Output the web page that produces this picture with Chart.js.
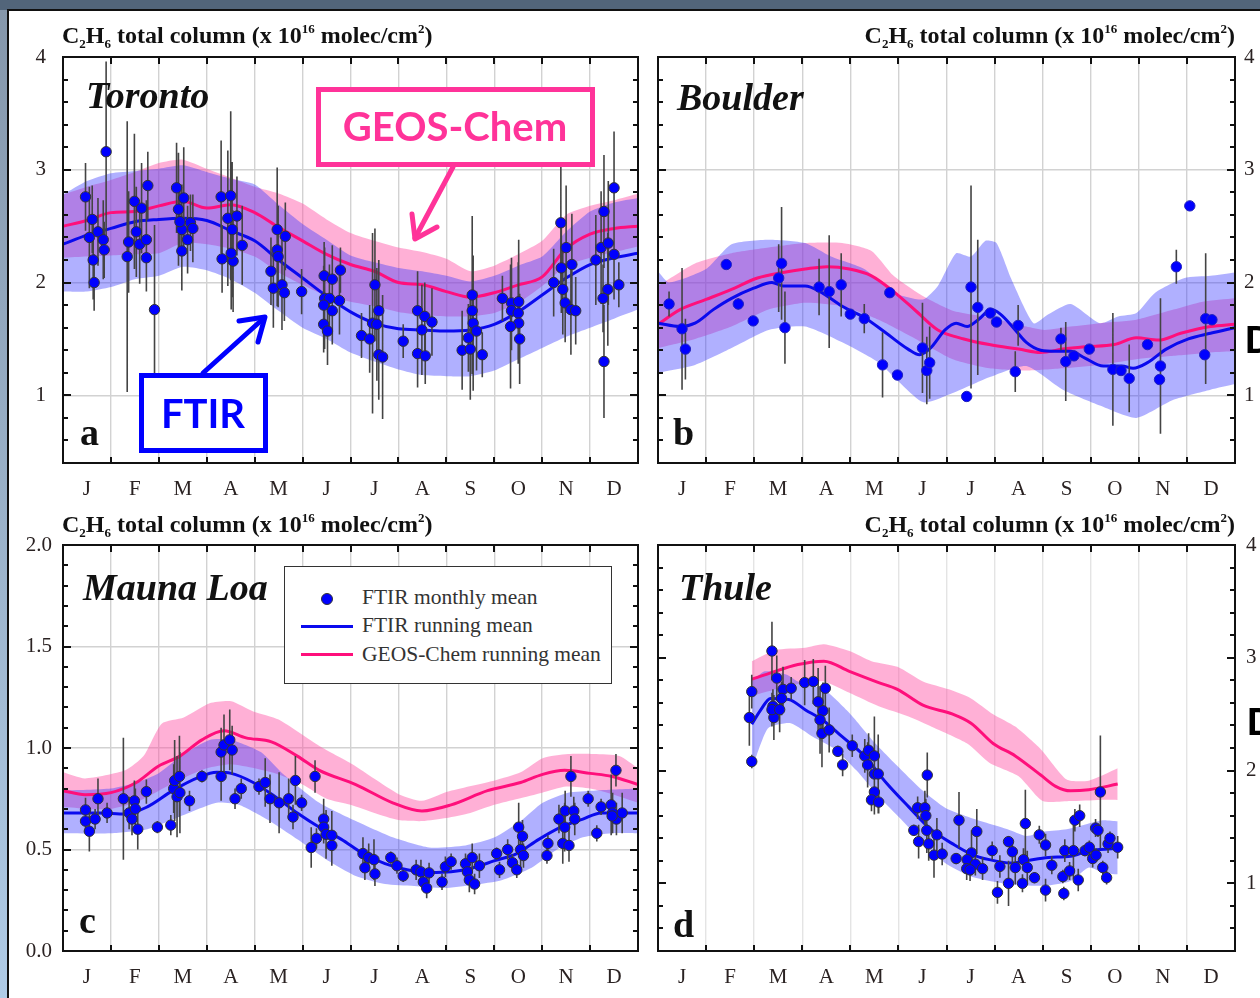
<!DOCTYPE html>
<html>
<head>
<meta charset="utf-8">
<title>C2H6 total column seasonal cycles</title>
<script src="https://cdn.jsdelivr.net/npm/chart.js@4.4.1/dist/chart.umd.min.js"></script>
<style>
  html, body { margin: 0; padding: 0; }
  body { width: 1260px; height: 998px; position: relative; overflow: hidden; background: #52657a; font-family: "Liberation Serif", serif; color: #111; }
  #strip { position: absolute; left: 0; top: 10px; width: 7px; bottom: 0; background: linear-gradient(#8597ab, #afcbe6); }
  #sheet { position: absolute; left: 7px; top: 9px; right: 0; bottom: 0; background: #fff; border-left: 2px solid #111; border-top: 2px solid #111; }
  canvas { position: absolute; }
  .ttl { position: absolute; font-weight: bold; font-size: 24px; line-height: 24px; white-space: nowrap; color: #111; }
  .ttl .lo { font-size: 13px; position: relative; top: 5px; }
  .ttl .hi { font-size: 13px; position: relative; top: -10px; }
  .site { position: absolute; font: italic bold 38px/38px "Liberation Serif", serif; white-space: nowrap; }
  .tag { position: absolute; font: bold 38px/38px "Liberation Serif", serif; }
  .cut { position: absolute; font: bold 38px/38px "Liberation Sans", sans-serif; color: #000; }
  #legend { position: absolute; left: 284px; top: 566px; width: 326px; height: 116px; border: 1.5px solid #333; background: #fff; }
  #legend .txt { position: absolute; left: 77px; font-size: 21.5px; line-height: 21.5px; white-space: nowrap; color: #333; }
  #legend .dot { position: absolute; left: 36px; top: 26px; width: 10px; height: 10px; border-radius: 50%; background: #0000ff; border: 1px solid #333; }
  #legend .ln { position: absolute; left: 16px; width: 52px; height: 3px; }
  svg { position: absolute; left: 0; top: 0; }
</style>
</head>
<body>
<div id="strip"></div>
<div id="sheet"></div>

<canvas id="cA" width="650" height="464" style="left:0;top:43px"></canvas>
<canvas id="cB" width="615" height="464" style="left:645px;top:43px"></canvas>
<canvas id="cC" width="650" height="464" style="left:0;top:531px"></canvas>
<canvas id="cD" width="615" height="464" style="left:645px;top:531px"></canvas>

<div class="ttl" style="left:62px;top:23px">C<span class="lo">2</span>H<span class="lo">6</span> total column (x 10<span class="hi">16</span> molec/cm<span class="hi">2</span>)</div>
<div class="ttl" style="right:25px;top:23px">C<span class="lo">2</span>H<span class="lo">6</span> total column (x 10<span class="hi">16</span> molec/cm<span class="hi">2</span>)</div>
<div class="ttl" style="left:62px;top:512px">C<span class="lo">2</span>H<span class="lo">6</span> total column (x 10<span class="hi">16</span> molec/cm<span class="hi">2</span>)</div>
<div class="ttl" style="right:25px;top:512px">C<span class="lo">2</span>H<span class="lo">6</span> total column (x 10<span class="hi">16</span> molec/cm<span class="hi">2</span>)</div>

<div class="site" style="left:86px;top:76px">Toronto</div>
<div class="site" style="left:677px;top:78px">Boulder</div>
<div class="site" style="left:83px;top:568px">Mauna Loa</div>
<div class="site" style="left:679px;top:568px">Thule</div>

<div class="tag" style="left:80px;top:413px">a</div>
<div class="tag" style="left:673px;top:413px">b</div>
<div class="tag" style="left:79px;top:901px">c</div>
<div class="tag" style="left:673px;top:905px">d</div>

<div class="cut" style="left:1245px;top:321px">D</div>
<div class="cut" style="left:1247px;top:703px">D</div>

<div id="legend">
  <div class="dot"></div>
  <div class="txt" style="top:20px">FTIR monthly mean</div>
  <div class="ln" style="top:58px;background:#0a0aee"></div>
  <div class="txt" style="top:48px">FTIR running mean</div>
  <div class="ln" style="top:86px;background:#ff0f7b"></div>
  <div class="txt" style="top:77px">GEOS-Chem running mean</div>
</div>

<svg width="1260" height="998">
  <g fill="none" stroke-linecap="round" stroke-linejoin="round">
    <line x1="453" y1="167" x2="415" y2="238" stroke="#ff3399" stroke-width="5"/>
    <polyline points="437,227 415,239 412,214" stroke="#ff3399" stroke-width="5"/>
    <line x1="203" y1="373" x2="264" y2="318" stroke="#0000ff" stroke-width="5"/>
    <polyline points="239,321 265,317 258,342" stroke="#0000ff" stroke-width="5"/>
  </g>
  <rect x="318.5" y="89.5" width="274" height="75" fill="#fff" stroke="#ff3399" stroke-width="5"/>
  <text x="455" y="141" text-anchor="middle" font-family="Lato" font-weight="bold" font-size="40" fill="#ff3399">GEOS-Chem</text>
  <rect x="141.5" y="375.5" width="124" height="75" fill="#fff" stroke="#0000ff" stroke-width="5"/>
  <text x="203" y="428" text-anchor="middle" font-family="Lato" font-weight="bold" font-size="40" fill="#0000ff">FTIR</text>
</svg>

<script>
// month axis
const months = ['J', 'F', 'M', 'A', 'M', 'J', 'J', 'A', 'S', 'O', 'N', 'D'];
const monthTicks = [0, 0.5, 1, 1.5, 2, 2.5, 3, 3.5, 4, 4.5, 5, 5.5, 6, 6.5, 7, 7.5, 8, 8.5, 9, 9.5, 10, 10.5, 11, 11.5, 12];
const halfGrid = [0, 0.5, 1, 1.5, 2, 2.5, 3, 3.5, 4, 4.5, 5, 5.5, 6, 6.5, 7, 7.5, 8, 8.5, 9, 9.5, 10, 10.5, 11, 11.5, 12];

// y tick labels
const colTicks = [1, 2, 3, 4];
const colLabels = ['1', '2', '3', '4'];
const mloTicks = [0, 0.5, 1, 1.5, 2];
const mloLabels = ['0.0', '0.5', '1.0', '1.5', '2.0'];

// ---- Toronto (a) ----
const torX = [0.47, 0.90, 0.55, 0.63, 0.65, 0.73, 0.84, 0.86, 0.61,
  1.34, 1.37, 1.49, 1.53, 1.60, 1.64, 1.74, 1.74, 1.77, 1.91,
  2.37, 2.41, 2.48, 2.52, 2.48, 2.60, 2.66, 2.71, 2.44,
  3.30, 3.50, 3.44, 3.63, 3.32, 3.55, 3.53, 3.74, 3.51,
  4.47, 4.64, 4.47, 4.49, 4.34, 4.39, 4.57, 4.62, 4.98,
  5.45, 5.62, 5.79, 5.46, 5.56, 5.77, 5.44, 5.62, 5.44, 5.52,
  6.51, 6.59, 6.46, 6.55, 6.23, 6.40, 6.59, 6.67, 7.10,
  7.40, 7.55, 7.70, 7.49, 7.40, 7.56,
  8.54, 8.54, 8.56, 8.63, 8.46, 8.33, 8.50, 8.75,
  9.17, 9.36, 9.51, 9.36, 9.50, 9.51, 9.34, 9.53,
  10.24, 10.39, 10.50, 10.40, 10.62, 10.43, 10.48, 10.60, 10.70,
  11.29, 11.50, 11.12, 11.23, 11.38, 11.50, 11.60, 11.37, 11.27, 11.29];
const torY = [2.76, 3.16, 2.40, 2.20, 2.00, 2.45, 2.38, 2.29, 2.56,
  2.23, 2.36, 2.72, 2.45, 2.34, 2.66, 2.22, 2.38, 2.86, 1.76,
  2.84, 2.65, 2.47, 2.75, 2.28, 2.38, 2.53, 2.48, 2.54,
  2.76, 2.77, 2.57, 2.59, 2.21, 2.19, 2.47, 2.33, 2.26,
  2.47, 2.41, 2.29, 2.23, 2.10, 1.95, 1.98, 1.91, 1.92,
  2.06, 2.03, 2.11, 1.86, 1.86, 1.84, 1.80, 1.75, 1.63, 1.57,
  1.98, 1.75, 1.64, 1.63, 1.53, 1.50, 1.36, 1.34, 1.48,
  1.75, 1.70, 1.65, 1.58, 1.37, 1.35,
  1.89, 1.75, 1.64, 1.57, 1.51, 1.40, 1.41, 1.36,
  1.86, 1.82, 1.83, 1.75, 1.73, 1.64, 1.61, 1.50,
  2.00, 2.53, 2.31, 2.13, 2.16, 1.94, 1.82, 1.76, 1.75,
  2.63, 2.84, 2.20, 2.31, 2.35, 2.25, 1.98, 1.94, 1.86, 1.30];
const torErr = [0.3, 0.8, 0.45, 0.35, 0.25, 0.3, 0.35, 0.25, 0.3,
  1.2, 0.45, 0.6, 0.4, 0.35, 0.4, 0.3, 0.35, 0.3, 0.75,
  0.4, 0.5, 0.4, 0.45, 0.35, 0.3, 0.25, 0.3, 0.3,
  0.5, 0.75, 0.6, 0.35, 0.3, 0.45, 0.6, 0.35, 0.5,
  0.55, 0.3, 0.5, 0.45, 0.3, 0.35, 0.4, 0.25, 0.2,
  0.3, 0.3, 0.2, 0.45, 0.3, 0.3, 0.35, 0.3, 0.25, 0.3,
  0.5, 0.45, 0.8, 0.5, 0.2, 0.3, 0.4, 0.55, 0.15,
  0.35, 0.3, 0.3, 0.4, 0.3, 0.25,
  0.7, 0.5, 0.6, 0.35, 0.3, 0.35, 0.45, 0.2,
  0.2, 0.4, 0.55, 0.35, 0.45, 0.35, 0.55, 0.4,
  0.3, 0.6, 0.55, 0.4, 0.45, 0.4, 0.35, 0.4, 0.3,
  0.5, 0.5, 0.4, 0.5, 0.55, 0.4, 0.2, 0.5, 0.3, 0.5];
const torFtir = [2.34, 2.42, 2.48, 2.54, 2.56, 2.57, 2.55, 2.46, 2.37, 2.20, 2.04, 1.88, 1.74, 1.64, 1.59, 1.58, 1.57, 1.58, 1.63, 1.74, 1.89, 2.04, 2.16, 2.22, 2.26];
const torGeos = [2.50, 2.55, 2.62, 2.63, 2.68, 2.72, 2.66, 2.69, 2.62, 2.49, 2.37, 2.25, 2.16, 2.10, 2.00, 1.98, 1.92, 1.87, 1.91, 1.98, 2.05, 2.30, 2.43, 2.48, 2.50];
const torFtirHi = [2.78, 2.90, 2.97, 2.99, 3.01, 3.04, 2.98, 2.92, 2.87, 2.69, 2.52, 2.38, 2.24, 2.18, 2.13, 2.10, 2.06, 2.01, 2.06, 2.15, 2.23, 2.45, 2.63, 2.71, 2.75];
const torFtirLo = [1.92, 1.92, 1.96, 2.03, 2.06, 2.14, 2.11, 2.03, 1.91, 1.75, 1.60, 1.50, 1.38, 1.30, 1.23, 1.18, 1.17, 1.17, 1.22, 1.32, 1.42, 1.52, 1.60, 1.68, 1.76];
const torGeosHi = [2.78, 2.85, 2.91, 2.98, 3.06, 3.09, 3.01, 2.93, 2.85, 2.79, 2.70, 2.56, 2.44, 2.37, 2.31, 2.27, 2.21, 2.10, 2.15, 2.25, 2.37, 2.60, 2.68, 2.73, 2.79];
const torGeosLo = [2.22, 2.23, 2.24, 2.25, 2.26, 2.35, 2.34, 2.30, 2.23, 2.09, 1.98, 1.88, 1.83, 1.79, 1.74, 1.71, 1.70, 1.70, 1.73, 1.82, 1.97, 2.15, 2.22, 2.27, 2.32];

// ---- Boulder (b) ----
const bouX = [0.23, 0.50, 0.57, 1.42, 1.67, 1.98, 2.57, 2.51, 2.64, 3.35, 3.56, 3.81,
  4.00, 4.29, 4.82, 4.67, 4.98, 5.50, 5.59, 5.65, 6.42, 6.51, 6.65, 6.91, 7.04,
  7.49, 7.43, 8.38, 8.48, 8.65, 8.97, 9.46, 9.63, 9.80, 10.18, 10.45, 10.43, 10.78,
  11.06, 11.39, 11.37, 11.52];
const bouY = [1.81, 1.59, 1.41, 2.16, 1.81, 1.66, 2.17, 2.04, 1.60, 1.96, 1.92, 1.98,
  1.72, 1.68, 1.91, 1.27, 1.18, 1.42, 1.22, 1.29, 0.99, 1.96, 1.78, 1.73, 1.65,
  1.62, 1.21, 1.50, 1.30, 1.35, 1.41, 1.23, 1.22, 1.15, 1.45, 1.26, 1.14, 2.14,
  2.68, 1.68, 1.36, 1.67];
const bouErr = [0.11, 0.54, 0.27, 0.03, 0.05, 0.03, 0.5, 0.3, 0.32, 0.25, 0.5, 0.28,
  0.03, 0.13, 0.03, 0.29, 0.03, 0.4, 0.3, 0.32, 0.03, 0.9, 0.6, 0.03, 0.03,
  0.18, 0.18, 0.1, 0.35, 0.03, 0.03, 0.5, 0.03, 0.3, 0.03, 0.6, 0.03, 0.15,
  0.03, 0.58, 0.03, 0.03];
const bouFtirX = [0, 0.46, 0.77, 1.15, 1.53, 1.99, 2.37, 2.6, 3.06, 3.37, 3.83, 4.29, 4.75, 5.2, 5.44, 5.67, 5.97, 6.2, 6.43, 6.66, 6.93, 7.12, 7.43, 7.66, 7.96, 8.27, 8.58, 8.88, 9.26, 9.65, 9.88, 10.18, 10.57, 11.03, 11.49, 12];
const bouFtirY = [1.64, 1.61, 1.64, 1.76, 1.86, 1.95, 2.00, 1.97, 1.97, 1.92, 1.79, 1.69, 1.55, 1.41, 1.36, 1.42, 1.58, 1.64, 1.61, 1.67, 1.76, 1.72, 1.58, 1.47, 1.40, 1.39, 1.39, 1.33, 1.26, 1.26, 1.24, 1.29, 1.41, 1.50, 1.55, 1.60];
const bouGeosX = [0, 0.46, 1, 1.53, 2.07, 2.6, 3.06, 3.52, 3.98, 4.44, 4.9, 5.36, 5.82, 6.36, 6.89, 7.5, 7.96, 8.42, 8.88, 9.49, 9.95, 10.41, 10.87, 11.49, 12];
const bouGeosY = [1.63, 1.76, 1.85, 1.94, 2.04, 2.09, 2.12, 2.14, 2.12, 2.06, 1.92, 1.75, 1.58, 1.50, 1.45, 1.41, 1.38, 1.41, 1.43, 1.45, 1.51, 1.49, 1.55, 1.61, 1.63];
const bouFtirHiX = [0, 0.23, 1, 1.53, 2.3, 3.06, 3.6, 4.29, 4.9, 5.51, 5.82, 6.2, 6.51, 6.81, 7.04, 7.35, 7.81, 8.12, 8.58, 9.19, 9.57, 9.95, 10.34, 10.95, 11.49, 12];
const bouFtirHiY = [2.10, 2.00, 2.12, 2.34, 2.38, 2.35, 2.23, 2.12, 1.91, 1.85, 1.97, 2.26, 2.23, 2.37, 2.35, 2.03, 1.64, 1.72, 1.81, 1.64, 1.70, 1.73, 1.91, 2.04, 2.06, 2.09];
const bouFtirLoX = [0, 0.77, 1.53, 2.3, 3.06, 3.83, 4.59, 5.51, 6.13, 6.89, 7.66, 8.42, 9.19, 9.95, 10.72, 11.49, 12];
const bouFtirLoY = [1.20, 1.27, 1.42, 1.58, 1.61, 1.47, 1.29, 0.94, 1.02, 1.16, 1.26, 1.05, 0.91, 0.80, 0.96, 1.05, 1.10];
const bouGeosHiX = [0, 0.77, 1.53, 2.3, 3.06, 3.83, 4.44, 4.9, 5.51, 6.13, 6.89, 7.66, 8.04, 8.58, 9.19, 9.95, 10.72, 11.33, 12];
const bouGeosHiY = [1.97, 2.17, 2.26, 2.31, 2.35, 2.35, 2.28, 2.06, 1.88, 1.75, 1.69, 1.61, 1.58, 1.61, 1.64, 1.67, 1.76, 1.83, 1.86];
const bouGeosLoX = [0, 0.77, 1.53, 2.3, 3.06, 3.83, 4.59, 5.36, 6.13, 6.89, 7.66, 8.42, 9.19, 9.95, 10.72, 11.49, 12];
const bouGeosLoY = [1.42, 1.50, 1.61, 1.76, 1.82, 1.79, 1.67, 1.50, 1.32, 1.24, 1.22, 1.24, 1.27, 1.32, 1.35, 1.38, 1.39];

// ---- Mauna Loa (c) ----
const mloX = [0.47, 0.47, 0.55, 0.67, 0.73, 0.92,
  1.26, 1.38, 1.49, 1.44, 1.51, 1.56, 1.74, 1.97,
  2.25, 2.31, 2.33, 2.43, 2.38, 2.44, 2.64, 2.90,
  3.30, 3.36, 3.48, 3.53, 3.30, 3.59, 3.72,
  4.09, 4.22, 4.32, 4.51, 4.71, 4.85, 4.80, 4.98,
  5.26, 5.18, 5.29, 5.44, 5.44, 5.49, 5.61, 5.61,
  6.26, 6.30, 6.38, 6.49, 6.51, 6.84, 6.97, 7.10,
  7.37, 7.47, 7.52, 7.64, 7.59, 7.91, 7.98, 8.10,
  8.40, 8.44, 8.48, 8.59, 8.69, 8.54,
  9.05, 9.11, 9.28, 9.38, 9.47, 9.51, 9.59, 9.55, 9.61,
  10.12, 10.10, 10.35, 10.48, 10.66, 10.68, 10.47, 10.43, 10.56, 10.60, 10.96,
  11.14, 11.23, 11.44, 11.54, 11.47, 11.55, 11.67, 11.46];
const mloY = [0.695, 0.64, 0.59, 0.65, 0.75, 0.68,
  0.75, 0.68, 0.74, 0.65, 0.70, 0.60, 0.785, 0.61,
  0.62, 0.80, 0.84, 0.86, 0.76, 0.78, 0.74, 0.86,
  0.98, 1.015, 1.04, 0.99, 0.86, 0.75, 0.80,
  0.81, 0.83, 0.75, 0.73, 0.75, 0.84, 0.66, 0.73,
  0.86, 0.51, 0.555, 0.65, 0.61, 0.575, 0.57, 0.52,
  0.48, 0.41, 0.46, 0.45, 0.38, 0.46, 0.42, 0.37,
  0.40, 0.39, 0.34, 0.385, 0.31, 0.34, 0.415, 0.44,
  0.43, 0.39, 0.35, 0.33, 0.42, 0.46,
  0.48, 0.40, 0.50, 0.435, 0.40, 0.61, 0.565, 0.50, 0.47,
  0.53, 0.47, 0.65, 0.69, 0.69, 0.65, 0.61, 0.53, 0.52, 0.86, 0.75,
  0.58, 0.71, 0.72, 0.89, 0.68, 0.65, 0.68, 0.665];
const mloErr = [0.06, 0.05, 0.1, 0.05, 0.1, 0.05,
  0.3, 0.08, 0.1, 0.08, 0.1, 0.1, 0.06, 0.03,
  0.05, 0.12, 0.2, 0.2, 0.2, 0.2, 0.05, 0.03,
  0.12, 0.15, 0.15, 0.12, 0.12, 0.05, 0.05,
  0.04, 0.12, 0.12, 0.15, 0.1, 0.12, 0.06, 0.04,
  0.08, 0.1, 0.05, 0.1, 0.08, 0.12, 0.12, 0.1,
  0.08, 0.06, 0.07, 0.1, 0.06, 0.03, 0.04, 0.03,
  0.05, 0.06, 0.04, 0.05, 0.05, 0.04, 0.05, 0.04,
  0.05, 0.05, 0.06, 0.05, 0.06, 0.07,
  0.03, 0.04, 0.05, 0.04, 0.04, 0.12, 0.08, 0.1, 0.06,
  0.04, 0.04, 0.07, 0.1, 0.07, 0.08, 0.12, 0.1, 0.08, 0.1, 0.04,
  0.04, 0.04, 0.15, 0.08, 0.1, 0.08, 0.1, 0.06];
const mloFtirX = [0, 0.76, 1.3, 1.76, 2.29, 2.83, 3.21, 3.51, 3.97, 4.43, 4.89, 5.35, 5.81, 6.26, 6.72, 7.18, 7.64, 8.1, 8.56, 9.01, 9.47, 9.93, 10.39, 10.85, 11.23, 12];
const mloFtirY = [0.68, 0.68, 0.675, 0.71, 0.79, 0.855, 0.88, 0.875, 0.83, 0.76, 0.68, 0.61, 0.55, 0.48, 0.43, 0.40, 0.386, 0.39, 0.41, 0.445, 0.48, 0.55, 0.61, 0.65, 0.68, 0.68];
const mloGeosX = [0, 0.46, 1, 1.53, 1.99, 2.44, 2.9, 3.36, 3.82, 4.35, 4.89, 5.35, 6.11, 6.88, 7.49, 8.1, 8.86, 9.55, 10.01, 10.47, 11, 11.46, 12];
const mloGeosY = [0.79, 0.77, 0.78, 0.83, 0.91, 0.96, 1.04, 1.085, 1.05, 1.03, 0.96, 0.89, 0.82, 0.73, 0.69, 0.72, 0.79, 0.83, 0.87, 0.89, 0.875, 0.86, 0.82];
const mloFtirHiX = [0, 1, 1.53, 1.99, 2.52, 3.06, 3.51, 4.13, 4.58, 5.35, 6.11, 6.88, 7.64, 8.4, 9.01, 9.55, 10.01, 10.54, 11.08, 12];
const mloFtirHiY = [0.79, 0.80, 0.83, 0.875, 0.97, 1.04, 1.04, 0.98, 0.875, 0.73, 0.64, 0.56, 0.51, 0.52, 0.56, 0.64, 0.73, 0.78, 0.79, 0.80];
const mloFtirLoX = [0, 1, 1.76, 2.52, 3.21, 3.67, 4.28, 4.89, 5.5, 6.11, 6.72, 7.33, 7.94, 8.56, 9.17, 9.78, 10.31, 10.85, 11.46, 12];
const mloFtirLoY = [0.58, 0.58, 0.60, 0.67, 0.73, 0.72, 0.645, 0.55, 0.45, 0.37, 0.33, 0.32, 0.31, 0.325, 0.35, 0.41, 0.50, 0.56, 0.58, 0.58];
const mloGeosHiX = [0, 0.46, 1.3, 1.68, 2.06, 2.52, 3.06, 3.51, 3.97, 4.5, 5.35, 6.04, 6.49, 7.03, 7.49, 8.02, 9.01, 9.55, 10.01, 10.54, 11.08, 11.61, 12];
const mloGeosHiY = [0.88, 0.85, 0.89, 0.96, 1.12, 1.15, 1.22, 1.23, 1.18, 1.14, 1.01, 0.92, 0.85, 0.77, 0.74, 0.785, 0.84, 0.88, 0.95, 0.97, 0.97, 0.96, 0.90];
const mloGeosLo = [0.71, 0.70, 0.70, 0.73, 0.79, 0.85, 0.90, 0.92, 0.90, 0.87, 0.82, 0.75, 0.72, 0.68, 0.645, 0.64, 0.655, 0.68, 0.72, 0.75, 0.78, 0.81, 0.80, 0.77, 0.73];

// ---- Thule (d) ----
const thuX = [1.95, 1.90, 1.95, 2.37, 2.47, 2.39, 2.41, 2.37, 2.53, 2.60, 2.57, 2.77,
  3.05, 3.23, 3.48, 3.33, 3.43, 3.37, 3.41, 3.56, 3.74, 3.84,
  4.04, 4.30, 4.38, 4.50, 4.36, 4.50, 4.58, 4.50, 4.44, 4.59,
  5.60, 5.40, 5.55, 5.57, 5.32, 5.59, 5.42, 5.63, 5.80, 5.74, 5.91,
  6.26, 6.63, 6.52, 6.20, 6.43, 6.60, 6.42, 6.49, 6.75, 6.95,
  7.11, 7.06, 7.29, 7.37, 7.29, 7.43, 7.60, 7.64, 7.68, 7.58, 7.83, 7.93,
  8.06, 8.19, 8.06, 8.42, 8.44, 8.46, 8.56, 8.64, 8.67, 8.77, 8.74, 8.88, 8.97,
  9.04, 9.11, 9.10, 9.15, 9.20, 9.25, 9.33, 9.36, 9.40, 9.56];
const thuY = [2.08, 2.47, 2.70, 3.06, 2.82, 2.57, 2.47, 2.54, 2.54, 2.72, 2.64, 2.73,
  2.78, 2.79, 2.73, 2.61, 2.53, 2.45, 2.33, 2.36, 2.17, 2.05,
  2.22, 2.13, 2.18, 2.13, 2.05, 1.97, 1.97, 1.81, 1.74, 1.72,
  1.96, 1.67, 1.67, 1.60, 1.47, 1.47, 1.37, 1.35, 1.43, 1.25, 1.26,
  1.56, 1.46, 1.27, 1.22, 1.21, 1.17, 1.13, 1.12, 1.13, 1.29,
  1.15, 0.92, 1.37, 1.28, 1.00, 1.14, 1.21, 1.53, 1.14, 1.00, 1.05, 1.43,
  1.34, 1.16, 0.94, 1.06, 0.91, 1.29, 1.11, 1.29, 1.56, 1.60, 1.03, 1.29, 1.32,
  1.22, 1.25, 1.49, 1.47, 1.81, 1.14, 1.05, 1.35, 1.40, 1.32];
const thuErr = [0.06, 0.25, 0.15, 0.26, 0.2, 0.15, 0.2, 0.15, 0.2, 0.2, 0.15, 0.1,
  0.2, 0.2, 0.2, 0.3, 0.25, 0.3, 0.3, 0.2, 0.05, 0.1,
  0.1, 0.15, 0.15, 0.35, 0.2, 0.3, 0.35, 0.2, 0.1, 0.1,
  0.2, 0.1, 0.15, 0.15, 0.05, 0.2, 0.15, 0.15, 0.15, 0.2, 0.1,
  0.25, 0.2, 0.2, 0.05, 0.08, 0.1, 0.1, 0.1, 0.1, 0.08,
  0.1, 0.1, 0.05, 0.1, 0.2, 0.15, 0.1, 0.3, 0.15, 0.08, 0.05, 0.08,
  0.1, 0.08, 0.1, 0.06, 0.06, 0.1, 0.08, 0.25, 0.1, 0.1, 0.1, 0.05, 0.06,
  0.08, 0.06, 0.08, 0.06, 0.5, 0.06, 0.06, 0.08, 0.06, 0.1];
const thuFtirX = [1.95, 2.14, 2.34, 2.72, 3.06, 3.45, 3.83, 4.29, 4.75, 5.21, 5.67, 6.13, 6.51, 6.89, 7.35, 7.66, 8.12, 8.58, 8.96, 9.19, 9.56];
const thuFtirY = [2.41, 2.54, 2.64, 2.63, 2.54, 2.44, 2.30, 2.13, 1.89, 1.68, 1.48, 1.35, 1.26, 1.21, 1.18, 1.20, 1.23, 1.24, 1.29, 1.30, 1.31];
const thuGeosX = [1.95, 2.30, 2.91, 3.45, 3.98, 4.59, 4.98, 5.51, 6.13, 6.51, 6.97, 7.43, 7.96, 8.27, 8.58, 8.96, 9.56];
const thuGeosY = [2.81, 2.86, 2.94, 2.97, 2.88, 2.78, 2.72, 2.58, 2.50, 2.42, 2.24, 2.13, 1.96, 1.86, 1.82, 1.83, 1.88];
const thuFtirHiX = [1.95, 2.22, 2.68, 2.91, 3.45, 3.98, 4.52, 5.05, 5.51, 5.97, 6.51, 7.27, 7.66, 8.04, 8.5, 9.04, 9.27, 9.56];
const thuFtirHiY = [2.79, 2.88, 2.85, 2.79, 2.72, 2.51, 2.24, 2.01, 1.82, 1.67, 1.58, 1.48, 1.42, 1.46, 1.48, 1.54, 1.56, 1.55];
const thuFtirLoX = [1.95, 2.14, 2.30, 2.76, 3.22, 3.68, 4.13, 4.59, 5.05, 5.51, 5.97, 6.51, 7.04, 7.66, 8.12, 8.58, 8.96, 9.27, 9.56];
const thuFtirLoY = [2.01, 2.24, 2.38, 2.42, 2.30, 2.19, 2.00, 1.77, 1.57, 1.36, 1.18, 1.06, 1.01, 0.98, 0.98, 1.02, 1.14, 1.09, 1.08];
const thuGeosHiX = [1.95, 2.45, 3.06, 3.45, 3.98, 4.44, 4.98, 5.51, 6.05, 6.51, 6.97, 7.43, 7.96, 8.5, 8.96, 9.56];
const thuGeosHiY = [2.97, 3.07, 3.09, 3.12, 3.06, 2.97, 2.92, 2.79, 2.72, 2.64, 2.50, 2.39, 2.19, 1.92, 1.91, 2.02];
const thuGeosLoX = [1.95, 2.45, 3.06, 3.45, 3.98, 4.59, 5.21, 5.74, 6.43, 6.89, 7.5, 8.0, 8.58, 9.19, 9.56];
const thuGeosLoY = [2.66, 2.72, 2.78, 2.79, 2.69, 2.57, 2.48, 2.38, 2.24, 2.07, 1.95, 1.73, 1.73, 1.74, 1.74];

Chart.defaults.font.family = '"Liberation Serif", serif';
Chart.defaults.color = '#222';

// inward tick marks on all four sides plus the black frame
const frameTicks = {
  id: 'frameTicks',
  afterDatasetsDraw(chart, args, o) {
    const { ctx, chartArea: a } = chart;
    const x = chart.scales.x, y = chart.scales.y;
    ctx.save();
    ctx.strokeStyle = '#111';
    ctx.lineWidth = 2;
    ctx.beginPath();
    for (let m = 1; m < 12; m++) {
      const px = Math.round(x.getPixelForValue(m));
      ctx.moveTo(px, a.top); ctx.lineTo(px, a.top + 7);
      ctx.moveTo(px, a.bottom); ctx.lineTo(px, a.bottom - 6);
    }
    for (let k = 1; o.min + k * o.minor < o.max - 1e-6; k++) {
      const v = o.min + k * o.minor;
      const major = Math.abs(v / o.major - Math.round(v / o.major)) < 1e-6;
      const len = major ? 8 : 5;
      const py = Math.round(y.getPixelForValue(v));
      ctx.moveTo(a.left, py); ctx.lineTo(a.left + len, py);
      ctx.moveTo(a.right, py); ctx.lineTo(a.right - len, py);
    }
    ctx.stroke();
    ctx.strokeRect(a.left, a.top, a.right - a.left, a.bottom - a.top);
    ctx.restore();
  }
};

// vertical error bars under the monthly-mean dots
const errorBars = {
  id: 'errorBars',
  beforeDatasetDraw(chart, args, o) {
    if (args.index !== 0) return;
    const { ctx, chartArea: a } = chart;
    const y = chart.scales.y;
    const data = chart.data.datasets[0].data;
    ctx.save();
    ctx.beginPath();
    ctx.rect(a.left, a.top, a.right - a.left, a.bottom - a.top);
    ctx.clip();
    ctx.strokeStyle = '#444';
    ctx.lineWidth = 1.6;
    ctx.beginPath();
    args.meta.data.forEach((el, i) => {
      const e = o.err[i];
      ctx.moveTo(el.x, y.getPixelForValue(data[i].y + e));
      ctx.lineTo(el.x, y.getPixelForValue(data[i].y - e));
    });
    ctx.stroke();
    ctx.restore();
  }
};

function pts(xs, ys) {
  return xs.map((v, i) => ({ x: v, y: ys[i] }));
}

function drawPanel(id, p) {
  const edge = { borderWidth: 0, borderColor: 'transparent', pointRadius: 0, tension: 0.2 };
  const inner = v => v > 0 && v < 12 && Number.isInteger(v);
  new Chart(document.getElementById(id), {
    type: 'line',
    data: {
      datasets: [
        { data: pts(p.x, p.y), showLine: false, pointRadius: 5.2, pointBackgroundColor: '#0000ff', pointBorderColor: p.dotEdge, pointBorderWidth: 1 },
        { data: pts(p.ftirX, p.ftirY), borderColor: '#0a0aee', borderWidth: 3, pointRadius: 0, cubicInterpolationMode: 'monotone' },
        { data: pts(p.geosX, p.geosY), borderColor: '#ff0f7b', borderWidth: 3, pointRadius: 0, cubicInterpolationMode: 'monotone' },
        { ...edge, data: pts(p.ftirHiX, p.ftirHiY), fill: 4, backgroundColor: 'rgba(52,52,255,0.39)' },
        { ...edge, data: pts(p.ftirLoX, p.ftirLoY), fill: false },
        { ...edge, data: pts(p.geosHiX, p.geosHiY), fill: 6, backgroundColor: 'rgba(255,80,164,0.45)' },
        { ...edge, data: pts(p.geosLoX, p.geosLoY), fill: false }
      ]
    },
    options: {
      responsive: false,
      animation: false,
      events: [],
      layout: { padding: p.pad },
      plugins: {
        legend: { display: false },
        tooltip: { enabled: false },
        errorBars: { err: p.err },
        frameTicks: p.frame
      },
      scales: {
        x: {
          type: 'linear', min: 0, max: 12,
          afterBuildTicks: s => { s.ticks = monthTicks.map(v => ({ value: v })); },
          afterFit: s => { s.height = 44; s.paddingLeft = 0; s.paddingRight = 0; },
          border: { display: false },
          grid: { drawTicks: false, lineWidth: 1.4, color: c => inner(c.tick.value) ? p.vGrid : 'transparent' },
          ticks: { autoSkip: false, maxRotation: 0, padding: 14, font: { size: 21 }, color: '#2a2222',
            callback: v => Number.isInteger(v) ? '' : months[Math.floor(v)] }
        },
        y: {
          position: p.side, min: p.min, max: p.max,
          afterBuildTicks: s => { s.ticks = p.yTicks.map(v => ({ value: v })); },
          afterFit: s => { s.width = p.axisW; s.paddingTop = 0; s.paddingBottom = 0; },
          border: { display: false },
          grid: { drawTicks: false, lineWidth: 1.4, color: c => (c.tick.value > p.min && c.tick.value < p.max) ? p.hGrid : 'transparent' },
          ticks: { padding: p.tickPad, font: { size: 21 }, color: '#2a2222', callback: (v, i) => p.yLabels[i] }
        }
      }
    },
    plugins: [errorBars, frameTicks]
  });
}

drawPanel('cA', {
  x: torX, y: torY, err: torErr, dotEdge: '#333',
  ftirX: halfGrid, ftirY: torFtir, geosX: halfGrid, geosY: torGeos,
  ftirHiX: halfGrid, ftirHiY: torFtirHi, ftirLoX: halfGrid, ftirLoY: torFtirLo,
  geosHiX: halfGrid, geosHiY: torGeosHi, geosLoX: halfGrid, geosLoY: torGeosLo,
  min: 0.4, max: 4, yTicks: colTicks, yLabels: colLabels, side: 'left', axisW: 63, tickPad: 17,
  pad: { top: 14, right: 12, left: 0, bottom: 0 },
  vGrid: '#d2d2d2', hGrid: '#d2d2d2',
  frame: { min: 0.4, max: 4, minor: 0.2, major: 1 }
});

drawPanel('cB', {
  x: bouX, y: bouY, err: bouErr, dotEdge: '#2222bb',
  ftirX: bouFtirX, ftirY: bouFtirY, geosX: bouGeosX, geosY: bouGeosY,
  ftirHiX: bouFtirHiX, ftirHiY: bouFtirHiY, ftirLoX: bouFtirLoX, ftirLoY: bouFtirLoY,
  geosHiX: bouGeosHiX, geosHiY: bouGeosHiY, geosLoX: bouGeosLoX, geosLoY: bouGeosLoY,
  min: 0.4, max: 4, yTicks: colTicks, yLabels: colLabels, side: 'right', axisW: 25, tickPad: 9,
  pad: { top: 14, right: 0, left: 13, bottom: 0 },
  vGrid: '#d2d2d2', hGrid: '#d2d2d2',
  frame: { min: 0.4, max: 4, minor: 0.2, major: 1 }
});

drawPanel('cC', {
  x: mloX, y: mloY, err: mloErr, dotEdge: '#333',
  ftirX: mloFtirX, ftirY: mloFtirY, geosX: mloGeosX, geosY: mloGeosY,
  ftirHiX: mloFtirHiX, ftirHiY: mloFtirHiY, ftirLoX: mloFtirLoX, ftirLoY: mloFtirLoY,
  geosHiX: mloGeosHiX, geosHiY: mloGeosHiY, geosLoX: halfGrid, geosLoY: mloGeosLo,
  min: 0, max: 2, yTicks: mloTicks, yLabels: mloLabels, side: 'left', axisW: 63, tickPad: 11,
  pad: { top: 14, right: 12, left: 0, bottom: 0 },
  vGrid: '#d2d2d2', hGrid: '#d2d2d2',
  frame: { min: 0, max: 2, minor: 0.1, major: 0.5 }
});

drawPanel('cD', {
  x: thuX, y: thuY, err: thuErr, dotEdge: '#333',
  ftirX: thuFtirX, ftirY: thuFtirY, geosX: thuGeosX, geosY: thuGeosY,
  ftirHiX: thuFtirHiX, ftirHiY: thuFtirHiY, ftirLoX: thuFtirLoX, ftirLoY: thuFtirLoY,
  geosHiX: thuGeosHiX, geosHiY: thuGeosHiY, geosLoX: thuGeosLoX, geosLoY: thuGeosLoY,
  min: 0.4, max: 4, yTicks: colTicks, yLabels: colLabels, side: 'right', axisW: 25, tickPad: 11,
  pad: { top: 14, right: 0, left: 13, bottom: 0 },
  vGrid: '#e4e4e4', hGrid: 'transparent',
  frame: { min: 0.4, max: 4, minor: 0.2, major: 1 }
});
</script>
</body>
</html>
